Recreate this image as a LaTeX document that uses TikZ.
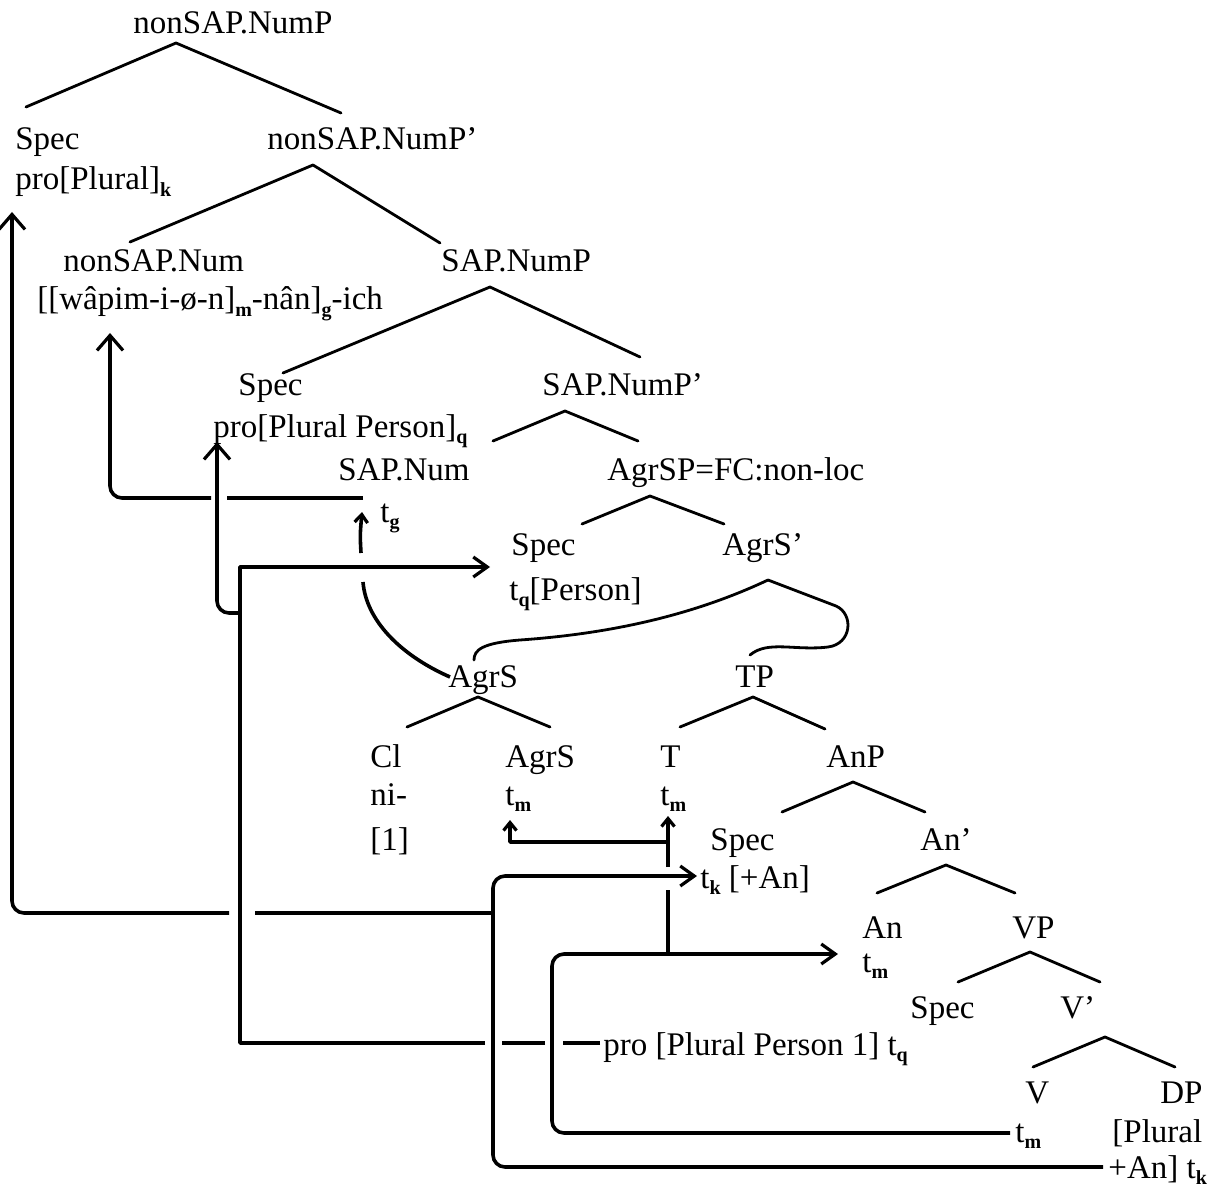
\documentclass[tikz,border=0pt]{standalone}
\usepackage{fontspec}
\setmainfont{Liberation Serif}
\usetikzlibrary{arrows.meta}
\newcommand{\lsub}[1]{\raisebox{-0.45ex}{\fontsize{10}{10}\selectfont\bfseries #1}}
\begin{document}
\begin{tikzpicture}[x=0.5pt,y=-0.5pt,
  lbl/.style={anchor=base west,inner sep=0pt,font=\fontsize{16.5}{20}\selectfont},
  tr/.style={line width=1.4pt,line cap=round,line join=round},
  mv/.style={line width=1.8pt,line join=round},
  bigtip/.style={-{Straight Barb[length=7.5pt,width=13pt,line width=1.6pt]}},
  midtip/.style={-{Straight Barb[length=7pt,width=10pt,line width=1.6pt]}},
  smalltip/.style={-{Straight Barb[length=4pt,width=6.5pt,line width=1.6pt]}}]
\useasboundingbox (0,0) rectangle (1219,1192);
% ---------- labels ----------
\node[lbl] (n1) at (133,34) {nonSAP.NumP};
\node[lbl] (n2) at (15,150) {Spec};
\node[lbl] (n3) at (15,190) {pro[Plural]\lsub{k}};
\node[lbl] (n4) at (267,150) {nonSAP.NumP’};
\node[lbl] (n5) at (63,272) {nonSAP.Num};
\node[lbl] (n6) at (37,310) {[[wâpim-i-ø-n]\lsub{m}-nân]\lsub{g}-ich};
\node[lbl] (n7) at (441,272) {SAP.NumP};
\node[lbl] (n8) at (238,395) {Spec};
\node[lbl] (n9) at (213,437) {pro[Plural Person]\lsub{q}};
\node[lbl] (n10) at (542,395) {SAP.NumP’};
\node[lbl] (n11) at (338,480) {SAP.Num};
\node[lbl] (n12) at (380,522) {t\lsub{g}};
\node[lbl] (n13) at (607,480) {AgrSP=FC:non-loc};
\node[lbl] (n14) at (511,555) {Spec};
\node[lbl] (n15) at (509,600) {t\lsub{q}[Person]};
\node[lbl] (n16) at (722,555) {AgrS’};
\node[lbl] (n17) at (448,687) {AgrS};
\node[lbl] (n18) at (735,687) {TP};
\node[lbl] (n19) at (370,767) {Cl};
\node[lbl] (n20) at (370,805) {ni-};
\node[lbl] (n21) at (370,850) {[1]};
\node[lbl] (n22) at (505,767) {AgrS};
\node[lbl] (n23) at (505,805) {t\lsub{m}};
\node[lbl] (n24) at (660,767) {T};
\node[lbl] (n25) at (660,805) {t\lsub{m}};
\node[lbl] (n26) at (826,767) {AnP};
\node[lbl] (n27) at (710,850) {Spec};
\node[lbl] (n28) at (700,888) {t\lsub{k} [+An]};
\node[lbl] (n29) at (920,850) {An’};
\node[lbl] (n30) at (862,938) {An};
\node[lbl] (n31) at (862,972) {t\lsub{m}};
\node[lbl] (n32) at (1012,938) {VP};
\node[lbl] (n33) at (910,1018) {Spec};
\node[lbl] (n34) at (1060,1018) {V’};
\node[lbl] (n35) at (603,1055) {pro [Plural Person 1] t\lsub{q}};
\node[lbl] (n36) at (1025,1103) {V};
\node[lbl] (n37) at (1160,1103) {DP};
\node[lbl] (n38) at (1015,1142) {t\lsub{m}};
\node[lbl] (n39) at (1112,1142) {[Plural};
\node[lbl] (n40) at (1108,1178) {+An] t\lsub{k}};
% ---------- tree branches ----------
\draw[tr] (26,107) -- (176,43) -- (341,113);
\draw[tr] (130,242) -- (313,165) -- (440,243);
\draw[tr] (283,373) -- (490,287) -- (640,357);
\draw[tr] (493,441) -- (565,411) -- (638,441);
\draw[tr] (582,524) -- (650,496) -- (724,524);
\draw[tr] (407,727) -- (478,697) -- (550,727);
\draw[tr] (680,727) -- (753,697) -- (825,729);
\draw[tr] (782,812) -- (853,782) -- (925,812);
\draw[tr] (877,893) -- (946,865) -- (1015,893);
\draw[tr] (958,982) -- (1030,952) -- (1100,982);
\draw[tr] (1033,1067) -- (1105,1037) -- (1175,1067);
% AgrS' with its wavy branches
\coordinate (ap) at (768,580);
\draw[tr] (ap) .. controls (700,612) and (620,633) .. (520,640)
  .. controls (482,643) and (474,650) .. (474,660);
\draw[tr] (ap) -- (836,606) .. controls (854,614) and (852,644) .. (828,647)
  .. controls (795,651) and (768,640) .. (750,655);
% ---------- movement lines ----------
% k : DP -> Spec t_k -> Spec pro[Plural]_k
\draw[mv,midtip,rounded corners=6pt] (1103,1167) -- (493,1167) -- (493,876) -- (697,876);
\draw[mv] (493,913) -- (255,913);
\draw[mv,bigtip,rounded corners=6pt] (229,913) -- (12,913) -- (12,212);
% q : pro ... t_q -> Spec t_q[Person] -> Spec pro[Plural Person]_q
\draw[mv] (600,1043) -- (563,1043);
\draw[mv] (545,1043) -- (502,1043);
\draw[mv,midtip] (485,1043) -- (240,1043) -- (240,567) -- (490,567);
\draw[mv,bigtip,rounded corners=6pt] (240,613) -- (217,613) -- (217,442);
% g : t_g -> nonSAP.Num
\draw[mv] (363,498) -- (227,498);
\draw[mv,bigtip,rounded corners=6pt] (211,498) -- (110,498) -- (110,333);
% AgrS -> t_g
\draw[mv] (450,677) .. controls (400,655) and (366,620) .. (363,582);
\draw[mv,smalltip] (361,553) .. controls (360,535) .. (362,512);
% m : V -> An -> T -> AgrS
\draw[mv,midtip,rounded corners=6pt] (1010,1133) -- (552,1133) -- (552,954) -- (838,954);
\draw[mv] (668,954) -- (668,890);
\draw[mv,smalltip] (668,867) -- (668,816);
\draw[mv,smalltip] (668,842) -- (510,842) -- (510,820);
\end{tikzpicture}
\end{document}
